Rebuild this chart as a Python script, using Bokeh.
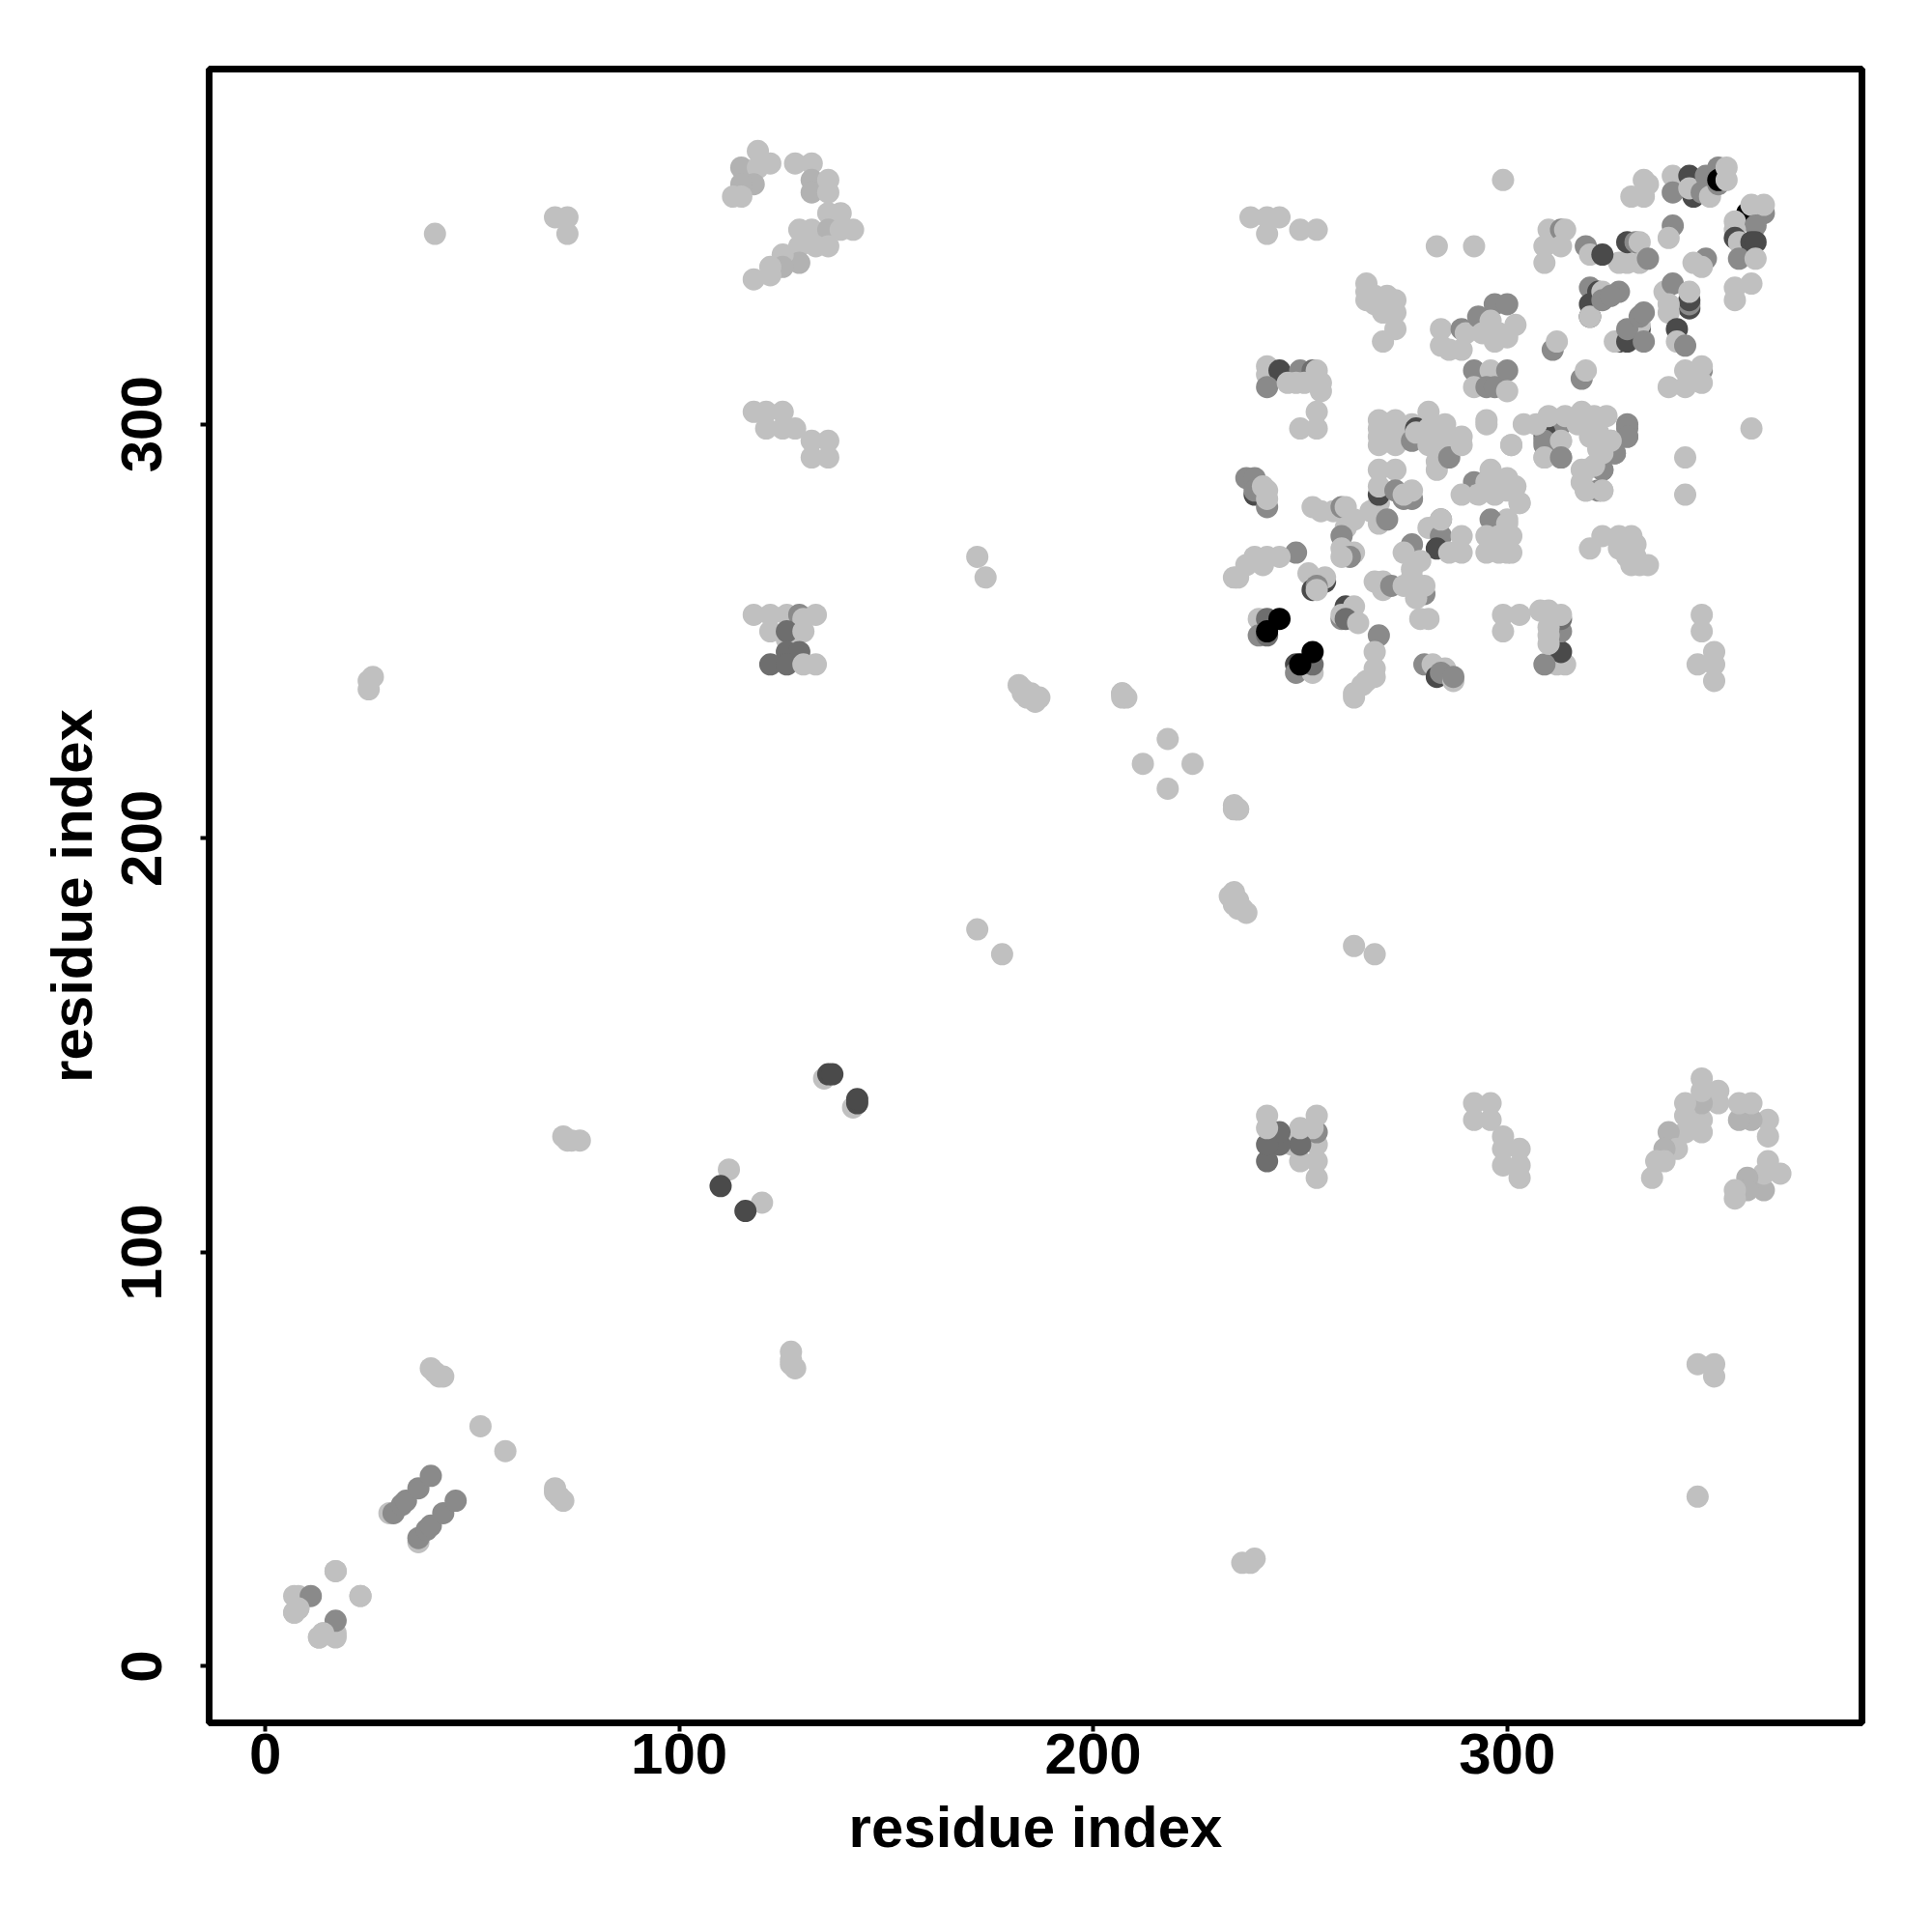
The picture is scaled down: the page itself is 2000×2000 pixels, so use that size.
from bokeh.plotting import figure
from bokeh.models import ColumnDataSource, FixedTicker
from bokeh.embed import file_html
from bokeh.resources import INLINE

# levels: 0 soft, 1 light, 2 medium, 3 medium-dark, 4 dark, 5 black
# pairs that appear on both sides of the diagonal
low_pairs = [(7,17,1),(8,17,1),(7,13,1),(8,14,1),(11,17,2),(17,23,1),(17,23,1),(7,13,1),(8,14,1),
             (30,37,1),(31,37,2),(33,39,2),(34,40,2),(37,43,2),(40,46,2),
             (40,72,1),(41,71,1),(42,70,1),(43,70,1),(52,58,1),(25,236,1),(25,238,1),(26,239,1),
             (41,346,1),(70,350,1),(73,350,1),(73,346,1)]
mid_pairs = [(72,128,1),(73,127,1),(76,127,1),(74,127,1),(112,120,1),(110,116,4),
             (135,142,1),(136,143,4),(137,143,4),(172,178,1),(172,268,1),(174,263,1),
             (182,237,1),(183,236,1),(183,235,1),(185,235,1),(184,234,1),(186,233,1),(187,234,1),
             (207,235,1),(208,234,1),(212,218,1),(218,224,1),(234,207,1),(235,207,1)]
top_pairs = [(119,366,1),(115,362,0),(122,363,1),(119,362,1),(118,358,0),(115,358,0),(113,355,1),(115,355,1),
             (128,363,1),(132,363,1),(132,359,0),(132,356,0),(136,359,1),(136,356,1),
             (136,351,1),(139,351,1),(129,347,1),(132,347,1),(136,347,0),(139,347,1),(142,347,1),
             (129,343,1),(133,343,1),(136,343,1),(129,339,0),(125,341,1),(125,338,0),(122,336,1),(122,338,1),(118,335,1)]
block_pairs = [(118,303,1),(121,303,1),(125,303,1),(121,299,1),(125,299,1),(128,299,1),(132,296,1),(132,292,1),(136,292,1),
               (118,254,1),(122,254,1),(126,254,1),(129,254,2),(133,254,1),(130,253,1),(122,250,1),(126,248,1),(126,250,3),
               (130,250,1),(126,245,3),(129,245,3),(122,242,3),(126,242,3),(130,242,1),(133,242,1),
               (136,296,1)]
far_pairs = [(238,350,1),(242,350,1),(245,350,1),(242,346,1),(250,347,1),(254,347,1),(283,343,1),(292,343,1),(299,359,1),
             (266,334,1),(266,332,1),(266,330,1),(268,331,1),(268,329,1),(270,327,1),(270,329,1),(271,331,1),(273,330,1),(273,327,1),(272,328,1),(273,323,1),(270,320,1),
             (242,314,1),(242,312,1),(245,313,4),(250,313,2),(253,313,3),(254,313,1),(242,309,2),(247,310,1),(249,310,1),
             (251,310,1),(255,310,1),(255,308,1),(254,303,1),(250,299,1),(254,299,1),
             (284,323,1),(284,319,1),(286,318,1),(289,323,2),(289,318,1),(290,322,1),(293,326,2),(294,322,1),(297,329,2),(300,329,2),
             (297,320,1),(300,321,1),(292,313,2),(296,313,1),(300,313,2),(292,309,1),(295,309,2),(297,309,2),(300,308,1),
             (269,301,1),(273,301,1),(277,300,1),(281,303,1),(285,300,1),(295,301,1),
             (296,325,1),(298,322,1),(302,324,1)]
# points read directly inside the block of residues 230-300 (both sides of the diagonal)
lower_block = [(269,299,1),(269,297,1),(269,295,1),(273,298,1),(273,295,1),(277,296,2),(278,299,4),(278,298,1),
               (281,299,1),(281,295,1),(283,291,1),(283,289,1),(285,293,1),(284,298,1),(286,296,1),(286,292,2),(289,297,1),(289,295,1),
               (301,295,1),(295,300,1),(237,287,2),(239,287,2),(239,283,4),(239,284,2),(241,285,1),(242,280,2),(242,282,1),(242,284,1),
               (253,280,1),(255,279,1),(258,279,1),(260,280,2),(261,280,1),(263,277,1),(261,275,1),(260,273,2),(260,270,1),(263,269,1),
               (262,268,2),(260,268,1),(267,279,1),(269,281,1),(269,276,1),(271,277,2),
               (269,289,1),(273,289,1),(269,283,4),(269,285,1),(273,284,2),(275,282,2),(277,282,2),(277,284,1),(275,283,1),
               (284,277,2),(281,275,1),(284,273,2),(283,270,4),(284,277,1),(286,269,1),(289,273,1),(289,269,1),
               (277,271,2),(275,269,1),(279,267,1),(277,265,1),
               (268,262,1),(270,262,1),(270,260,1),(272,261,2),(275,261,1),(277,263,1),(280,259,2),(280,261,1),(278,258,1),(279,253,1),(281,253,1),
               (296,289,1),(292,286,2),(295,286,1),(289,283,1),(297,286,1),(300,287,1),(293,283,1),(297,283,1),(302,285,1),
               (296,277,2),(300,276,1),(295,273,1),(295,269,1),(298,273,1),(298,269,1),(300,272,1),(300,269,1),
               (249,269,2),(245,268,1),(242,268,1),(239,268,1),(237,266,1),(235,263,1),(234,263,1),(241,266,1),
               (252,264,1),(256,262,4),(256,263,1),(253,260,4),(254,261,2),(254,260,1),
               (240,253,1),(242,253,3),(245,253,5),(240,249,2),(242,249,3),(242,250,5),
               (249,242,4),(249,240,2),(253,240,1),(253,242,3),(250,242,5),(253,245,5),
               (261,256,4),(263,256,1),(260,253,2),(260,254,1),(261,253,3),(264,252,1),
               (269,249,2),(268,245,1),(268,241,1),(268,239,1),(266,238,1),(263,235,1),(263,234,1),(265,237,1),
               (280,242,2),(282,242,1),(285,241,1),(283,239,4),(284,240,2),(287,238,1),(287,239,2)]
# points read directly inside the block of residues 300-370 (both sides of the diagonal)
upper_block = [(333,359,1),(334,358,1),(330,355,1),(333,355,1),(340,360,1),(340,356,2),(345,355,4),(344,360,4),(344,357,1),
               (347,356,2),(348,360,2),(349,355,1),(351,362,2),(351,358,2),(351,359,5),(353,362,1),(353,359,1),
               (358,351,5),(362,351,2),(359,353,1),(362,353,1),(355,349,1),(360,348,2),(355,347,1),(355,345,4),(356,344,1),
               (359,344,4),(360,344,4),(356,340,2),(360,340,1),(355,333,1),(359,334,1),(355,330,1),
               (340,348,2),(339,345,1),(348,340,2),(345,339,1),(347,338,1),
               (338,332,1),(340,334,2),(344,328,4),(344,329,2),(344,330,4),(344,332,1),(339,329,1),(339,327,1),(341,323,4),(341,320,1),(343,319,2),
               (347,313,2),(347,314,1),(343,313,1),(347,310,1),(343,309,1),(339,309,1),
               (327,320,4),(326,320,1),(329,320,4),(332,323,4),(332,324,1),(329,323,2),(332,326,2),(333,327,2),(333,320,2),
               (320,333,2),(322,332,4),(320,329,4),(320,326,4),(320,326,1),(323,332,1),(323,330,2),(327,332,2),(325,331,2),
               (327,339,1),(329,339,1),(332,339,1),(329,344,4),(331,344,2),(332,344,1),(334,340,2),
               (319,343,2),(320,341,1),(323,341,4),
               (310,347,1),(313,347,2),(314,347,1),(309,343,1),(313,343,1),(309,339,1),
               (311,318,2),(312,320,1),(318,311,2),(319,313,1)]
# right-hand mirror side of the 230-300 / 300-370 cross block read directly
cross_block = [(309,298,4),(309,296,2),(309,292,1),(313,296,1),(313,292,2),
               (329,299,2),(329,297,2),(326,293,2),(323,289,2),(322,284,2),(323,284,1),(319,289,1),(319,284,1),(321,290,1),(323,293,1),
               (317,300,1),(321,302,1),(325,296,1),
               (304,300,1),(307,300,1),(310,302,1),(314,302,1),(318,303,1),(303,281,1),(300,284,1)]

levels = {0: "#b2b2b2", 1: "#c0c0c0", 2: "#8a8a8a", 3: "#6e6e6e", 4: "#4a4a4a", 5: "#000000"}
tick_values = [0, 100, 200, 300]

mirrored = low_pairs + mid_pairs + top_pairs + block_pairs + far_pairs
xs, ys, cs = [], [], []
for i, j, g in mirrored:
    xs += [i, j]
    ys += [j, i]
    cs += [levels[g], levels[g]]
for i, j, g in lower_block + upper_block + cross_block:
    xs.append(i)
    ys.append(j)
    cs.append(levels[g])

p = figure(frame_width=1711, frame_height=1712, x_range=(-13.55, 385.7), y_range=(-13.65, 385.8),
           output_backend="svg", toolbar_location=None, min_border_left=216, min_border_top=71,
           min_border_right=50, min_border_bottom=190, background_fill_color="white")
p.grid.visible = False
p.outline_line_color = "black"
p.outline_line_width = 7
src = ColumnDataSource(dict(x=xs, y=ys, c=cs))
p.scatter("x", "y", source=src, size=23, fill_color="c", line_color=None)

for ax in (p.xaxis[0], p.yaxis[0]):
    ax.ticker = FixedTicker(ticks=tick_values)
    ax.minor_tick_line_color = None
    ax.axis_line_color = None
    ax.major_tick_in = 0
    ax.major_tick_out = 9
    ax.major_tick_line_width = 4
    ax.major_tick_line_color = "black"
    ax.major_label_text_font = "Liberation Sans"
    ax.major_label_text_font_style = "bold"
    ax.major_label_text_font_size = "60px"
    ax.major_label_text_color = "black"
    ax.axis_label = "residue index"
    ax.axis_label_text_font = "Liberation Sans"
    ax.axis_label_text_font_style = "bold"
    ax.axis_label_text_font_size = "60px"
    ax.axis_label_text_color = "black"
p.yaxis[0].major_label_orientation = "vertical"
p.xaxis[0].major_label_standoff = 2
p.yaxis[0].major_label_standoff = 40
p.xaxis[0].axis_label_standoff = 19
p.yaxis[0].axis_label_standoff = 16

open("out.html", "w").write(file_html(p, INLINE))
